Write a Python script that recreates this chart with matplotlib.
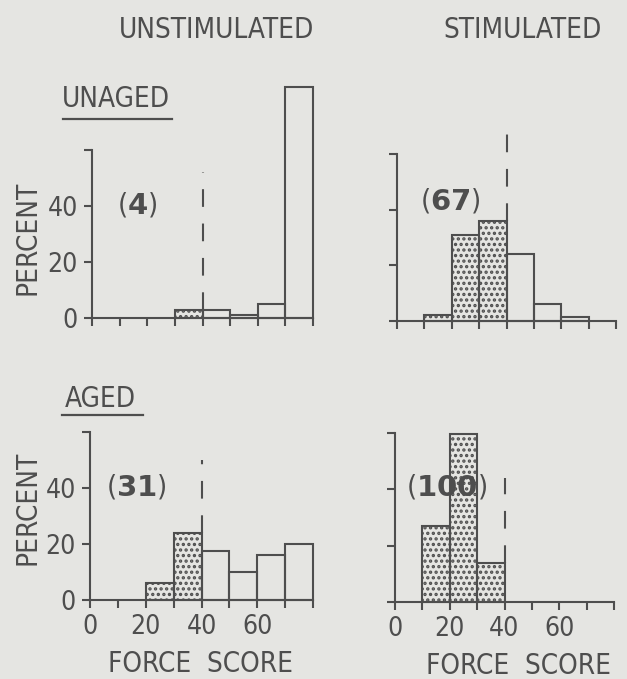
import numpy as np
import matplotlib
matplotlib.use("Agg")
import matplotlib.pyplot as plt

# --- data ---
bin_left = [0, 10, 20, 30, 40, 50, 60, 70]
unaged_unstim = [0, 0, 0, 3, 3, 1.2, 5, 82.5]
unaged_stim = [0, 2, 31, 36, 24, 6, 1.5, 0]
aged_unstim = [0, 0, 6, 24, 17.5, 10, 16, 20]
aged_stim = [0, 27, 59.5, 14, 0, 0, 0, 0]
n_cells = ["4", "67", "31", "100"]
cutoff = 40
# dashed cutoff marker: (from, to) in percent
cut_spans = [(3, 52), (36, 71), (24, 50), (14, 44)]

col_titles = ["UNSTIMULATED", "STIMULATED"]
row_titles = ["UNAGED", "AGED"]
y_ticks = [0, 20, 40, 60]
y_labels = ["0", "20", "40", ""]
x_ticks = [0, 10, 20, 30, 40, 50, 60, 70, 80]
x_labels = ["0", "", "20", "", "40", "", "60", "", ""]

# --- style ---
W, H = 627, 679
bg = "#e5e5e2"
ink = "#4e4e4e"
font = dict(family="DejaVu Sans", stretch="condensed", color=ink)
plt.rcParams["mathtext.fontset"] = "dejavusans"
plt.rcParams["hatch.color"] = ink
plt.rcParams["hatch.linewidth"] = 1.6

fig = plt.figure(figsize=(W / 100, H / 100), dpi=100, facecolor=bg)


def px_axes(x0, x1, y0, y1):
    # x0/x1: pixel of data 0 / 80, y0/y1: pixel of data 0 / 60 (from top)
    return fig.add_axes([x0 / W, 1 - y0 / H, (x1 - x0) / W, (y0 - y1) / H])


boxes = [(92, 313, 318, 150), (397, 616, 321, 154),
         (90, 313, 600, 432), (395, 614, 602, 433)]
series = [unaged_unstim, unaged_stim, aged_unstim, aged_stim]
n_pos = [(137, 205), (450, 201), (136, 487), (447, 487)]

for i, (box, vals) in enumerate(zip(boxes, series)):
    ax = px_axes(*box)
    ax.set_facecolor("none")
    ax.set_xlim(0, 80)
    ax.set_ylim(0, 60)
    for s in ["top", "right"]:
        ax.spines[s].set_visible(False)
    for s in ["left", "bottom"]:
        ax.spines[s].set_color(ink)
        ax.spines[s].set_linewidth(1.5)

    for left, v in zip(bin_left, vals):
        if v <= 0:
            continue
        ax.bar(left, v, width=10, align="edge",
               facecolor="none", edgecolor=ink, linewidth=1.5,
               hatch="..." if left < cutoff else None, clip_on=False)

    lo, hi = cut_spans[i]
    ax.plot([cutoff, cutoff], [lo, hi], color=ink, lw=1.5,
            linestyle=(0, (8.5, 8)), clip_on=False)

    ax.set_yticks(y_ticks)
    ax.set_xticks(x_ticks)
    ax.tick_params(direction="out", length=6, width=1.5, color=ink,
                   labelcolor=ink, labelsize=19, pad=4)
    if i % 2 == 0:
        ax.set_yticklabels(y_labels, fontstretch="condensed")
    else:
        ax.set_yticklabels([])
    if i >= 2:
        ax.set_xticklabels(x_labels, fontstretch="condensed")
    else:
        ax.set_xticklabels([])

    fig.text(n_pos[i][0] / W, 1 - n_pos[i][1] / H,
             r"($\mathbf{%s}$)" % n_cells[i], ha="center", va="center",
             fontsize=21, **font)

# column titles
fig.text(217 / W, 1 - 30 / H, col_titles[0], ha="center", va="center", fontsize=20, **font)
fig.text(523 / W, 1 - 30 / H, col_titles[1], ha="center", va="center", fontsize=20, **font)

# row titles with underline
for (tx, ty, ux0, ux1, uy), t in zip([(116, 99, 63, 172, 119), (100, 399, 62, 143, 415)], row_titles):
    fig.text(tx / W, 1 - ty / H, t, ha="center", va="center", fontsize=20, **font)
    fig.add_artist(plt.Line2D([ux0 / W, ux1 / W], [1 - uy / H, 1 - uy / H],
                              color=ink, lw=1.6))

# axis labels
for y in [238, 508]:
    fig.text(27 / W, 1 - y / H, "PERCENT", rotation=90, ha="center", va="center",
             fontsize=20, **font)
fig.text(200 / W, 1 - 664 / H, "FORCE  SCORE", ha="center", va="center", fontsize=20, **font)
fig.text(518 / W, 1 - 666 / H, "FORCE  SCORE", ha="center", va="center", fontsize=20, **font)

fig.savefig("out.png", dpi=100, facecolor=bg)
